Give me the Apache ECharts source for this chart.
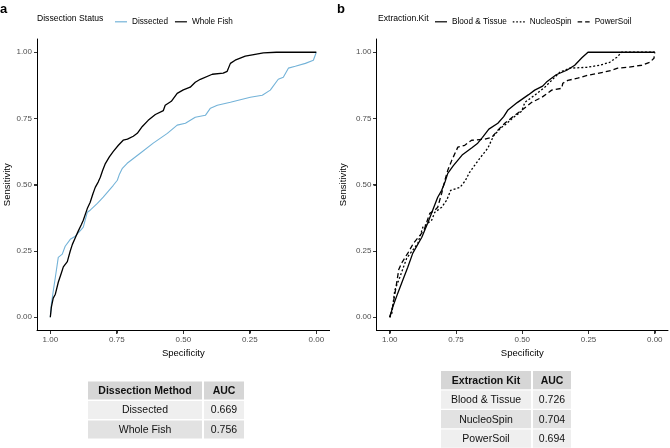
<!DOCTYPE html>
<html>
<head>
<meta charset="utf-8">
<script src="https://cdn.jsdelivr.net/npm/echarts@6/dist/echarts.min.js"></script>
<style>
html,body{margin:0;padding:0;background:#fff;}
#w{position:relative;width:670px;height:448px;}
#c{width:670px;height:448px;}
</style>
</head>
<body>
<div id="w"><div id="c"></div></div>
<script>
// ---------- Data ----------
const tickValues = [0, 0.25, 0.5, 0.75, 1];

// Panel a: Dissection Status
const dissectedSpec = [1.000,0.996,0.989,0.981,0.970,0.955,0.944,0.925,0.906,0.883,0.876,0.861,0.850,0.823,0.801,0.763,0.748,0.740,0.729,0.711,0.662,0.613,0.560,0.523,0.492,0.455,0.417,0.398,0.372,0.323,0.248,0.203,0.173,0.143,0.124,0.105,0.079,0.041,0.011,0.004,0.000];
const dissectedSens = [0.000,0.049,0.098,0.151,0.226,0.238,0.268,0.294,0.306,0.332,0.340,0.396,0.404,0.430,0.453,0.498,0.517,0.540,0.562,0.581,0.619,0.657,0.694,0.725,0.732,0.755,0.762,0.789,0.800,0.811,0.830,0.838,0.857,0.898,0.906,0.940,0.947,0.958,0.970,0.977,1.000];

const wholeFishSpec = [1.000,0.996,0.989,0.981,0.970,0.959,0.951,0.936,0.925,0.917,0.906,0.895,0.883,0.876,0.861,0.850,0.840,0.831,0.820,0.812,0.803,0.793,0.778,0.763,0.744,0.726,0.710,0.688,0.673,0.654,0.632,0.605,0.575,0.568,0.545,0.523,0.500,0.474,0.455,0.436,0.391,0.350,0.335,0.323,0.305,0.267,0.230,0.199,0.150,0.000];
const wholeFishSens = [0.000,0.038,0.072,0.087,0.132,0.165,0.190,0.210,0.250,0.275,0.300,0.325,0.350,0.366,0.410,0.434,0.465,0.490,0.510,0.528,0.555,0.580,0.605,0.626,0.649,0.668,0.672,0.683,0.694,0.720,0.743,0.765,0.780,0.800,0.815,0.845,0.858,0.868,0.887,0.898,0.917,0.921,0.928,0.958,0.970,0.985,0.992,0.998,1.000,1.000];

// Panel b: Extraction Kit
const bloodSpec = [1.000,0.989,0.970,0.951,0.932,0.913,0.879,0.857,0.819,0.804,0.792,0.781,0.760,0.727,0.690,0.668,0.650,0.626,0.592,0.570,0.555,0.519,0.476,0.453,0.423,0.406,0.372,0.332,0.302,0.275,0.252,0.000];
const bloodSens = [0.000,0.038,0.090,0.140,0.189,0.242,0.302,0.355,0.453,0.479,0.509,0.543,0.572,0.612,0.640,0.657,0.679,0.710,0.732,0.757,0.781,0.810,0.840,0.857,0.872,0.890,0.915,0.932,0.951,0.979,1.000,1.000];

const nucleoSpec = [1.000,0.992,0.981,0.962,0.936,0.894,0.875,0.842,0.830,0.804,0.785,0.770,0.735,0.715,0.700,0.682,0.660,0.630,0.608,0.580,0.560,0.538,0.502,0.490,0.453,0.415,0.389,0.358,0.321,0.257,0.208,0.170,0.143,0.125,0.000];
const nucleoSens = [0.000,0.015,0.102,0.151,0.223,0.279,0.340,0.366,0.396,0.415,0.442,0.479,0.490,0.515,0.545,0.570,0.600,0.638,0.685,0.715,0.730,0.750,0.778,0.811,0.838,0.868,0.894,0.925,0.940,0.943,0.951,0.962,0.981,1.000,1.000];

const powerSpec = [1.000,0.989,0.977,0.966,0.955,0.930,0.910,0.885,0.870,0.858,0.849,0.830,0.819,0.804,0.792,0.781,0.766,0.743,0.717,0.691,0.642,0.615,0.592,0.566,0.528,0.502,0.464,0.426,0.389,0.351,0.347,0.328,0.291,0.253,0.215,0.162,0.140,0.102,0.049,0.019,0.003,0.000];
const powerSens = [0.000,0.040,0.110,0.180,0.205,0.245,0.280,0.310,0.330,0.366,0.392,0.404,0.415,0.468,0.517,0.555,0.592,0.642,0.649,0.668,0.672,0.679,0.706,0.732,0.762,0.781,0.811,0.830,0.857,0.864,0.883,0.894,0.902,0.913,0.920,0.932,0.940,0.943,0.951,0.962,0.977,1.000];

// Tables
const tableAHeader = ['Dissection Method', 'AUC'];
const tableAMethods = ['Dissected', 'Whole Fish'];
const tableAAuc = ['0.669', '0.756'];
const tableBHeader = ['Extraction Kit', 'AUC'];
const tableBKits = ['Blood & Tissue', 'NucleoSpin', 'PowerSoil'];
const tableBAuc = ['0.726', '0.704', '0.694'];

// ---------- Helpers ----------
const zip = (xs, ys) => xs.map((x, i) => [x, ys[i]]);
const FONT = 'Liberation Sans, Arial, sans-serif';
const ICON_SOLID = 'path://M0,0H12V1H0Z';
const ICON_DOTTED = 'path://M0,0h1.6v1h-1.6z M3.5,0h1.6v1h-1.6z M7,0h1.6v1h-1.6z M10.4,0h1.6v1h-1.6z';
const ICON_DASHED = 'path://M0,0h4.5v1h-4.5z M7.5,0h4.5v1h-4.5z';
const AX_MIN = -0.05, AX_MAX = 1.05;
const GRIDS = [
  { left: 37, top: 39, width: 292.6, height: 291.5 },
  { left: 376.5, top: 39, width: 291.5, height: 291.5 }
];

function xAxisCfg(gi) {
  return {
    type: 'value', gridIndex: gi, inverse: true, min: AX_MIN, max: AX_MAX,
    name: 'Specificity', nameLocation: 'middle', nameGap: 16,
    nameTextStyle: { color: '#000', fontSize: 9.5, fontFamily: FONT },
    axisLine: { show: true, onZero: false, lineStyle: { color: '#000', width: 1 } },
    axisTick: { show: true, length: 3, lineStyle: { color: '#333', width: 1 }, customValues: tickValues },
    axisLabel: { color: '#4d4d4d', fontSize: 8, fontFamily: FONT, margin: 5, customValues: tickValues,
      formatter: v => v.toFixed(2) },
    splitLine: { show: false }
  };
}
function yAxisCfg(gi, gap) {
  return {
    type: 'value', gridIndex: gi, min: AX_MIN, max: AX_MAX,
    name: 'Sensitivity', nameLocation: 'middle', nameGap: gap,
    nameTextStyle: { color: '#000', fontSize: 9.5, fontFamily: FONT },
    axisLine: { show: true, onZero: false, lineStyle: { color: '#000', width: 1 } },
    axisTick: { show: true, length: 3, lineStyle: { color: '#333', width: 1 }, customValues: tickValues },
    axisLabel: { color: '#4d4d4d', fontSize: 8, fontFamily: FONT, margin: 5, customValues: tickValues,
      formatter: v => v.toFixed(2) },
    splitLine: { show: false }
  };
}
function lineSeries(name, gi, data, color, width, type) {
  return {
    name, type: 'line', xAxisIndex: gi, yAxisIndex: gi, data,
    showSymbol: false, symbol: 'none', smooth: false, silent: true, animation: false,
    lineStyle: { color, width, type }, itemStyle: { color }
  };
}

function table(x, y, colW, gapX, rowH, gapY, header, col1, col2) {
  const els = [];
  const rows = [header].concat(col1.map((c, i) => [c, col2[i]]));
  rows.forEach((r, ri) => {
    const fill = ri === 0 ? '#d6d6d6' : (ri % 2 === 1 ? '#efefef' : '#e2e2e2');
    const ty = y + ri * (rowH + gapY);
    let cx = x;
    r.forEach((txt, ci) => {
      els.push({ type: 'rect', shape: { x: cx, y: ty, width: colW[ci], height: rowH }, style: { fill } , silent: true});
      els.push({ type: 'text', style: { x: cx + colW[ci] / 2, y: ty + rowH / 2 + 0.5, text: txt,
        textAlign: 'center', textVerticalAlign: 'middle', fill: '#111',
        font: (ri === 0 ? 'bold ' : '') + '10.5px ' + FONT }, silent: true });
      cx += colW[ci] + gapX;
    });
  });
  return els;
}

const graphics = [
  { type: 'text', style: { x: 0, y: 9, text: 'a', textVerticalAlign: 'middle', font: 'bold 13px ' + FONT, fill: '#000' } },
  { type: 'text', style: { x: 337, y: 9, text: 'b', textVerticalAlign: 'middle', font: 'bold 13px ' + FONT, fill: '#000' } },
  { type: 'text', style: { x: 37, y: 18.5, text: 'Dissection Status', textVerticalAlign: 'middle', font: '8.6px ' + FONT, fill: '#000' } },
  { type: 'text', style: { x: 378, y: 18.5, text: 'Extraction.Kit', textVerticalAlign: 'middle', font: '8.6px ' + FONT, fill: '#000' } }
].concat(
  table(88, 381.5, [114, 40], 2, 18, 1.5, tableAHeader, tableAMethods, tableAAuc),
  table(441, 371, [90, 38], 2, 18.3, 1.2, tableBHeader, tableBKits, tableBAuc)
);

const chart = echarts.init(document.getElementById('c'), null, { renderer: 'canvas' });
chart.setOption({
  animation: false,
  textStyle: { fontFamily: FONT },
  grid: GRIDS,
  xAxis: [xAxisCfg(0), xAxisCfg(1)],
  yAxis: [yAxisCfg(0, 24), yAxisCfg(1, 28)],
  legend: [
    { left: 115, top: 17.8, padding: 0, itemWidth: 12, itemHeight: 1.2, itemGap: 7, selectedMode: false,
      symbolKeepAspect: false,
      textStyle: { fontSize: 8.2, color: '#000', fontFamily: FONT },
      data: [{ name: 'Dissected', icon: ICON_SOLID }, { name: 'Whole Fish', icon: ICON_SOLID }] },
    { left: 435, top: 17.8, padding: 0, itemWidth: 12, itemHeight: 1.2, itemGap: 6, selectedMode: false,
      symbolKeepAspect: false,
      textStyle: { fontSize: 8.2, color: '#000', fontFamily: FONT },
      data: [{ name: 'Blood & Tissue', icon: ICON_SOLID }, { name: 'NucleoSpin', icon: ICON_DOTTED }, { name: 'PowerSoil', icon: ICON_DASHED }] }
  ],
  series: [
    lineSeries('Dissected', 0, zip(dissectedSpec, dissectedSens), '#74b3d8', 1.1, 'solid'),
    lineSeries('Whole Fish', 0, zip(wholeFishSpec, wholeFishSens), '#000000', 1.3, 'solid'),
    lineSeries('Blood & Tissue', 1, zip(bloodSpec, bloodSens), '#000000', 1.3, 'solid'),
    lineSeries('NucleoSpin', 1, zip(nucleoSpec, nucleoSens), '#000000', 1.3, [2, 2]),
    lineSeries('PowerSoil', 1, zip(powerSpec, powerSens), '#000000', 1.3, [5, 3])
  ],
  graphic: graphics
});

// Axis frame overlay (axis lines + ticks), positioned via the chart's own coordinate conversion
const wrap = document.getElementById('w');
function addBar(l, t, w, h, c) {
  if (![l, t, w, h].every(Number.isFinite)) return;
  const d = document.createElement('div');
  d.style.cssText = 'position:absolute;pointer-events:none;z-index:10;left:' + l + 'px;top:' + t +
    'px;width:' + w + 'px;height:' + h + 'px;background:' + c + ';';
  wrap.appendChild(d);
}
function toPx(gi, xv, yv) {
  let p = null;
  try { p = chart.convertToPixel({ gridIndex: gi }, [xv, yv]); } catch (e) { p = null; }
  if (!p || !Number.isFinite(p[0]) || !Number.isFinite(p[1])) {
    const g = GRIDS[gi], span = AX_MAX - AX_MIN;
    p = [g.left + (AX_MAX - xv) / span * g.width, g.top + (AX_MAX - yv) / span * g.height];
  }
  return p;
}
[0, 1].forEach(gi => {
  const lb = toPx(gi, AX_MAX, AX_MIN);
  const rt = toPx(gi, AX_MIN, AX_MAX);
  const x0 = Math.floor(lb[0]), y0 = Math.floor(lb[1]);
  addBar(x0, y0, Math.round(rt[0] - x0), 1, '#000');
  addBar(x0, Math.round(rt[1]), 1, y0 + 1 - Math.round(rt[1]), '#000');
  tickValues.forEach(v => {
    const p = toPx(gi, v, v);
    addBar(Math.floor(p[0]), y0 + 1, 1, 3, '#333');
    addBar(x0 - 3, Math.floor(p[1]), 3, 1, '#333');
  });
});
</script>
</body>
</html>
